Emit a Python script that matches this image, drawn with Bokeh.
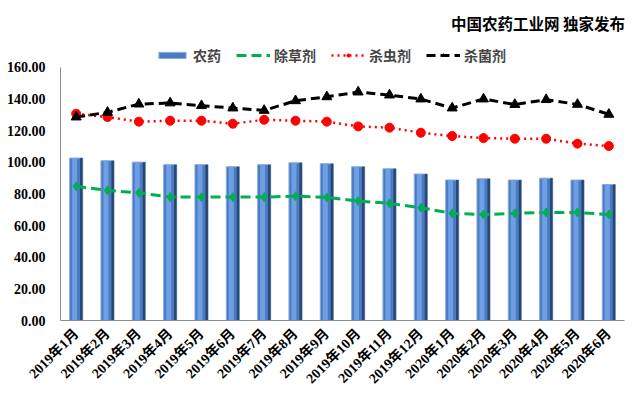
from math import pi
from bokeh.plotting import figure
from bokeh.models import (FactorRange, Range1d, FixedTicker, NumeralTickFormatter,
                          Legend, LegendItem, ColumnDataSource)
from bokeh.transform import dodge
from bokeh.embed import file_html
from bokeh.resources import INLINE

months = ["2019年1月", "2019年2月", "2019年3月", "2019年4月", "2019年5月", "2019年6月",
          "2019年7月", "2019年8月", "2019年9月", "2019年10月", "2019年11月", "2019年12月",
          "2020年1月", "2020年2月", "2020年3月", "2020年4月", "2020年5月", "2020年6月"]
pesticide = [102.7, 101.0, 100.1, 98.5, 98.5, 97.2, 98.5, 99.7, 99.1, 97.2, 95.9, 92.6,
             88.8, 89.6, 88.8, 90.0, 88.8, 86.0]
herbicide = [84.8, 82.2, 80.7, 78.0, 78.0, 78.0, 78.0, 78.6, 77.8, 75.5, 74.0, 71.3,
             67.7, 67.0, 67.7, 68.3, 68.3, 67.0]
insecticide = [130.7, 128.6, 125.7, 126.3, 126.3, 124.4, 126.9, 126.3, 125.7, 122.7, 121.9, 118.7,
               116.6, 115.3, 114.9, 114.9, 111.8, 110.3]
fungicide = [128.6, 131.6, 136.8, 137.5, 135.8, 134.3, 132.8, 138.9, 141.4, 144.4, 142.5, 140.0,
             134.3, 140.0, 136.5, 139.6, 136.6, 130.3]
y_ticks = [0, 20, 40, 60, 80, 100, 120, 140, 160]
series_names = ["农药", "除草剂", "杀虫剂", "杀菌剂"]
title_text = "中国农药工业网  独家发布"

src = ColumnDataSource(dict(m=months, p=pesticide, h=herbicide, i=insecticide, f=fungicide))

# frame extends above 160 to host the legend; the axis line stops at 160
p = figure(x_range=FactorRange(*months), y_range=Range1d(0, 177),
           width=640, height=396, output_backend="svg", toolbar_location=None,
           min_border_left=60, min_border_right=16, min_border_bottom=76, min_border_top=40)
p.outline_line_color = None
p.xgrid.visible = False
p.ygrid.visible = False

p.title.text = title_text
p.title.align = "right"
p.title.text_font = "Noto Sans CJK SC"
p.title.text_font_size = "15.5px"
p.title.text_font_style = "bold"
p.title.text_color = "black"
p.title.offset = -4
p.title.standoff = 13

# bars with cylinder-like shading
bar = p.vbar(x="m", top="p", width=0.42, source=src, fill_color="#4A7BC2",
             line_color="#8EB0DD", line_width=1)
p.vbar(x=dodge("m", -0.05, range=p.x_range), top="p", width=0.16, source=src,
       fill_color="#6E9FE4", line_color=None)
p.vbar(x=dodge("m", 0.165, range=p.x_range), top="p", width=0.08, source=src,
       fill_color="#2B466F", line_color=None)

gl = p.line("m", "h", source=src, line_color="#00B050", line_width=3, line_dash="10 5")
gs = p.scatter("m", "h", source=src, marker="diamond", size=9, fill_color="#00B050", line_color="#00B050")
rl = p.line("m", "i", source=src, line_color="#FF0000", line_width=2.5, line_dash="2 4")
rs = p.scatter("m", "i", source=src, marker="circle", size=9, fill_color="#FF0000", line_color="#FF0000")
bl = p.line("m", "f", source=src, line_color="black", line_width=3, line_dash="9 5")
bs = p.scatter("m", "f", source=src, marker="triangle", size=10, fill_color="black", line_color="black")

legend = Legend(items=[LegendItem(label=series_names[0], renderers=[bar]),
                       LegendItem(label=series_names[1], renderers=[gl, gs]),
                       LegendItem(label=series_names[2], renderers=[rl, rs]),
                       LegendItem(label=series_names[3], renderers=[bl, bs])],
                orientation="horizontal", location=(95, 255),
                label_text_font="Noto Sans CJK SC", label_text_font_size="14px",
                label_text_font_style="bold", glyph_width=34, glyph_height=8,
                label_standoff=4, spacing=15, border_line_color=None,
                background_fill_alpha=0, padding=2, margin=0)
p.add_layout(legend, "center")

font = "Liberation Serif, Noto Sans CJK SC"
p.yaxis.ticker = FixedTicker(ticks=y_ticks)
p.yaxis.formatter = NumeralTickFormatter(format="0.00")
p.yaxis.bounds = (0, 160)
for ax in (p.xaxis[0], p.yaxis[0]):
    ax.axis_line_color = "#8C8C8C"
    ax.major_tick_line_color = None
    ax.minor_tick_line_color = None
    ax.major_label_text_font = font
    ax.major_label_text_font_size = "14px"
    ax.major_label_text_font_style = "bold"
    ax.major_label_text_color = "black"
p.yaxis.major_label_standoff = 15
p.xaxis.major_label_orientation = pi / 4
p.xaxis.major_label_standoff = 11
p.yaxis.major_tick_out = 0
p.xaxis.major_tick_out = 0

open("out.html", "w").write(file_html(p, INLINE))
